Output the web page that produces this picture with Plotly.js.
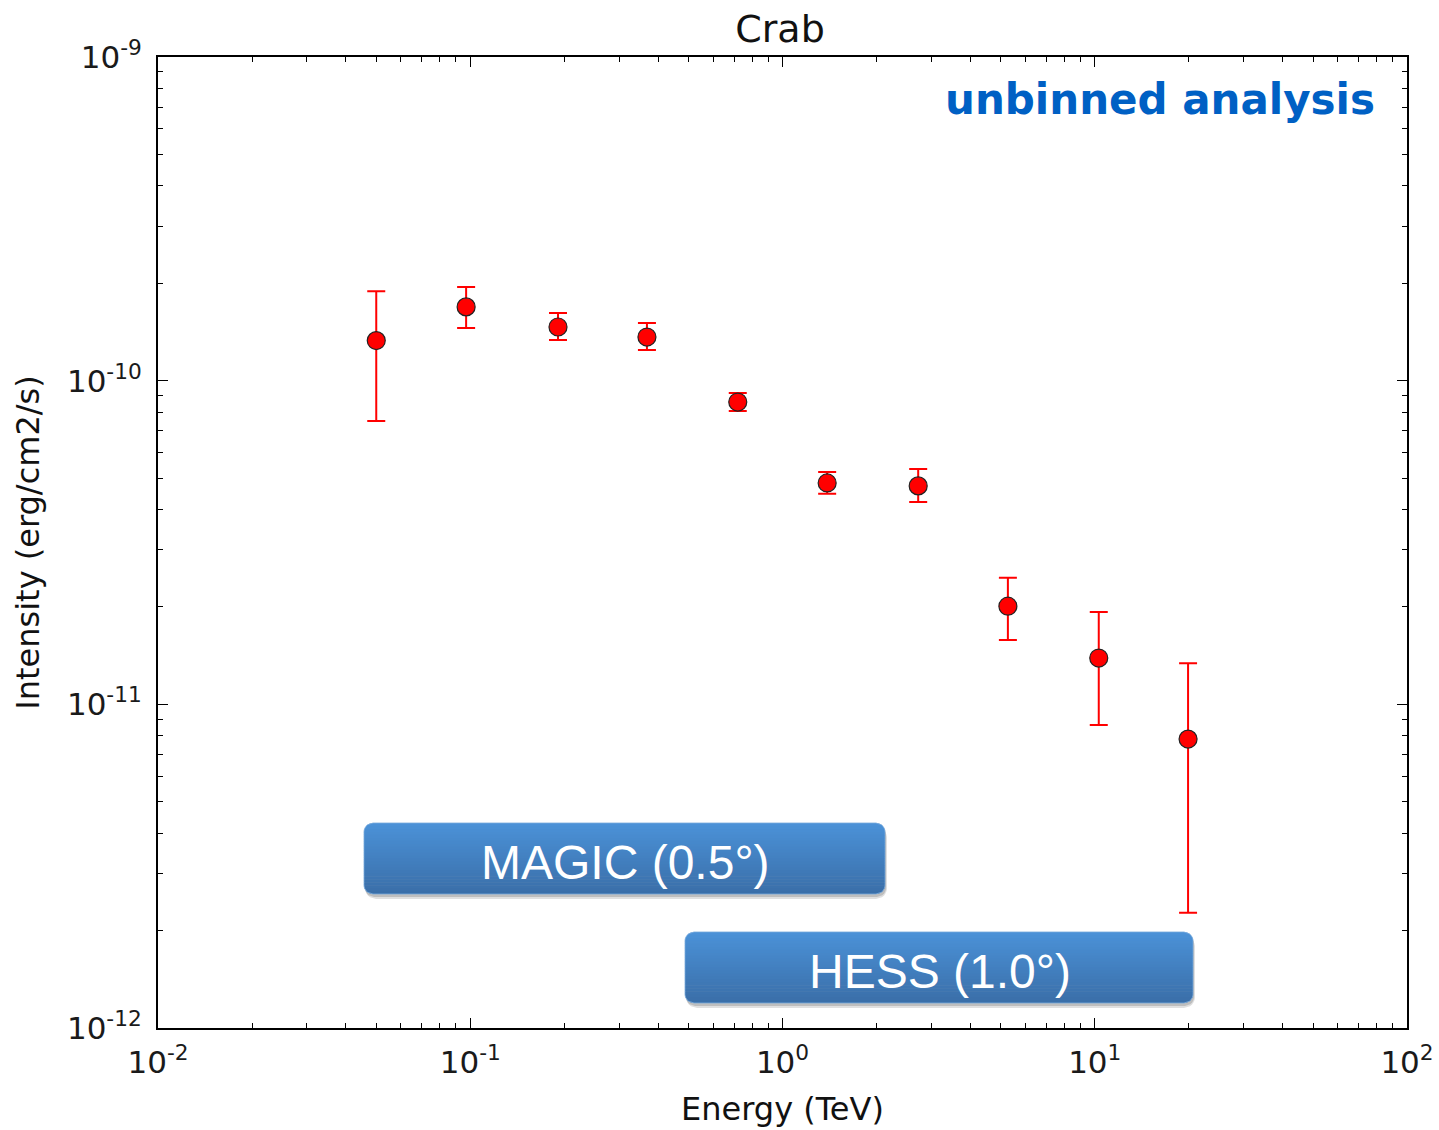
<!DOCTYPE html>
<html>
<head>
<meta charset="utf-8">
<script src="https://cdn.plot.ly/plotly-3.0.1.min.js"></script>
<style>body{margin:0;background:#fff}#chart{width:1439px;height:1130px}</style>
</head>
<body>
<div id="chart"></div>
<script>
// ---- data ----
const energy = [0.050, 0.097, 0.191, 0.368, 0.719, 1.39, 2.72, 5.27, 10.3, 19.9];
const intensity = [1.33e-10, 1.69e-10, 1.465e-10, 1.364e-10, 8.59e-11, 4.83e-11, 4.73e-11, 2.01e-11, 1.39e-11, 7.81e-12];
const errUpper = [1.89e-10, 1.947e-10, 1.618e-10, 1.507e-10, 9.16e-11, 5.22e-11, 5.33e-11, 2.46e-11, 1.93e-11, 1.34e-11];
const errLower = [7.50e-11, 1.455e-10, 1.336e-10, 1.244e-10, 8.06e-11, 4.47e-11, 4.22e-11, 1.58e-11, 8.64e-12, 2.27e-12];
const xTickVals = [0.01, 0.1, 1, 10, 100];
const xTickText = ['10<sup>-2</sup>', '10<sup>-1</sup>', '10<sup>0</sup>', '10<sup>1</sup>', '10<sup>2</sup>'];
const yTickVals = [1e-12, 1e-11, 1e-10, 1e-9];
const yTickText = ['10<sup>-12</sup>', '10<sup>-11</sup>', '10<sup>-10</sup>', '10<sup>-9</sup>'];
const boxLabels = ['MAGIC (0.5°)', 'HESS (1.0°)'];

const errPlus = errUpper.map((u, i) => u - intensity[i]);
const errMinus = errLower.map((l, i) => intensity[i] - l);

function minorVals(lo, hi) {
  const out = [];
  for (let e = lo; e < hi; e++) for (let d = 2; d <= 9; d++) out.push(d * Math.pow(10, e));
  return out;
}

const W = 1439, H = 1130;
const M = {l: 158, r: 32, t: 57, b: 102};
const PW = W - M.l - M.r, PH = H - M.t - M.b;
const px = x => (x - M.l) / PW;
const py = y => (M.t + PH - y) / PH;

function lerpColor(a, b, t) {
  const pa = a.match(/\w\w/g).map(h => parseInt(h, 16));
  const pb = b.match(/\w\w/g).map(h => parseInt(h, 16));
  return 'rgb(' + pa.map((v, i) => Math.round(v + (pb[i] - v) * t)).join(',') + ')';
}
function inset(y, top, bot, r) {
  let d = 0;
  if (y < top + r) d = r - Math.sqrt(Math.max(0, r * r - Math.pow(r - (y - top), 2)));
  else if (y > bot - r) d = r - Math.sqrt(Math.max(0, r * r - Math.pow(r - (bot - y), 2)));
  return d;
}
function roundedPath(x0, y0, x1, y1, r) {
  const pts = [];
  const n = 40;
  for (let i = 0; i <= n; i++) { const y = y0 + (y1 - y0) * i / n; pts.push([x1 - inset(y, y0, y1, r), y]); }
  for (let i = n; i >= 0; i--) { const y = y0 + (y1 - y0) * i / n; pts.push([x0 + inset(y, y0, y1, r), y]); }
  return 'M' + pts.map(p => px(p[0]).toFixed(5) + ',' + py(p[1]).toFixed(5)).join('L') + 'Z';
}
function stripPath(x0, y0, x1, y1, r, ya, yb) {
  const pts = [];
  const n = 6;
  for (let i = 0; i <= n; i++) { const y = ya + (yb - ya) * i / n; pts.push([x1 - inset(y, y0, y1, r), y]); }
  for (let i = n; i >= 0; i--) { const y = ya + (yb - ya) * i / n; pts.push([x0 + inset(y, y0, y1, r), y]); }
  return 'M' + pts.map(p => px(p[0]).toFixed(5) + ',' + py(p[1]).toFixed(5)).join('L') + 'Z';
}
function boxShapes(x0, y0, x1, y1) {
  const r = 9, shapes = [];
  shapes.push({type: 'path', xref: 'paper', yref: 'paper', path: roundedPath(x0 + 1, y0 + 4, x1 + 2, y1 + 5, r + 2),
    fillcolor: 'rgba(0,0,0,0.12)', line: {width: 0}, layer: 'above'});
  shapes.push({type: 'path', xref: 'paper', yref: 'paper', path: roundedPath(x0 + 1, y0 + 2, x1 + 1, y1 + 3, r),
    fillcolor: 'rgba(0,0,0,0.15)', line: {width: 0}, layer: 'above'});
  const N = 24;
  for (let i = 0; i < N; i++) {
    const ya = y0 + (y1 - y0) * i / N, yb = y0 + (y1 - y0) * (i + 1) / N + 0.6;
    shapes.push({type: 'path', xref: 'paper', yref: 'paper', path: stripPath(x0, y0, x1, y1, r, ya, Math.min(yb, y1)),
      fillcolor: lerpColor('4b92d8', '3a6ea8', (i + 0.5) / N), line: {width: 0}, layer: 'above'});
  }
  shapes.push({type: 'path', xref: 'paper', yref: 'paper', path: roundedPath(x0, y0, x1, y1, r),
    fillcolor: 'rgba(0,0,0,0)', line: {width: 1, color: 'rgba(120,170,220,0.8)'}, layer: 'above'});
  return shapes;
}

const shapes = [].concat(boxShapes(364, 823, 885, 894), boxShapes(685, 932, 1193, 1003));

const trace = {
  x: energy, y: intensity, type: 'scatter', mode: 'markers',
  marker: {color: '#ff0000', size: 18, line: {color: '#222', width: 1.2}},
  error_y: {type: 'data', symmetric: false, array: errPlus, arrayminus: errMinus,
            color: '#ff0000', thickness: 2, width: 9},
  showlegend: false, cliponaxis: false
};

const axisCommon = {
  showline: true, linecolor: '#000', linewidth: 2, mirror: 'allticks',
  ticks: 'inside', ticklen: 10, tickwidth: 1.2, tickcolor: '#000',
  showgrid: false, zeroline: false,
  tickfont: {family: 'DejaVu Sans', size: 31, color: '#1a1a1a'}
};

const layout = {
  width: W, height: H, margin: M,
  paper_bgcolor: '#fff', plot_bgcolor: '#fff',
  font: {family: 'DejaVu Sans', color: '#111'},
  title: {text: 'Crab', font: {family: 'DejaVu Sans', size: 38, color: '#111'}, x: px(780), xref: 'paper', xanchor: 'center', y: 1 - 29 / H, yanchor: 'middle'},
  xaxis: Object.assign({}, axisCommon, {
    type: 'log', range: [-2, 2], tickmode: 'array', tickvals: xTickVals, ticktext: xTickText,
    ticklabelstandoff: 6,
    minor: {ticks: 'inside', ticklen: 5, tickwidth: 1, tickcolor: '#000', tickmode: 'array', tickvals: minorVals(-2, 2), showgrid: false},
    title: {text: 'Energy (TeV)', font: {family: 'DejaVu Sans', size: 32, color: '#111'}, standoff: 18}
  }),
  yaxis: Object.assign({}, axisCommon, {
    type: 'log', range: [-12, -9], tickmode: 'array', tickvals: yTickVals, ticktext: yTickText,
    ticklabelstandoff: 8,
    minor: {ticks: 'inside', ticklen: 5, tickwidth: 1, tickcolor: '#000', tickmode: 'array', tickvals: minorVals(-12, -9), showgrid: false},
    title: {text: 'Intensity (erg/cm2/s)', font: {family: 'DejaVu Sans', size: 32, color: '#111'}, standoff: 18}
  }),
  shapes: shapes,
  annotations: [
    {text: '<b>unbinned analysis</b>', xref: 'paper', yref: 'paper', x: px(1377), y: py(99), xanchor: 'right', yanchor: 'middle',
     showarrow: false, font: {family: 'DejaVu Sans', size: 42, color: '#0060c4'}},
    {text: boxLabels[0], xref: 'paper', yref: 'paper', x: px(625), y: py(862), xanchor: 'center', yanchor: 'middle',
     showarrow: false, font: {family: 'Liberation Sans', size: 48, color: '#fff'}},
    {text: boxLabels[1], xref: 'paper', yref: 'paper', x: px(940), y: py(971), xanchor: 'center', yanchor: 'middle',
     showarrow: false, font: {family: 'Liberation Sans', size: 48, color: '#fff'}}
  ]
};

Plotly.newPlot('chart', [trace], layout, {displayModeBar: false, staticPlot: true});
</script>
</body>
</html>
